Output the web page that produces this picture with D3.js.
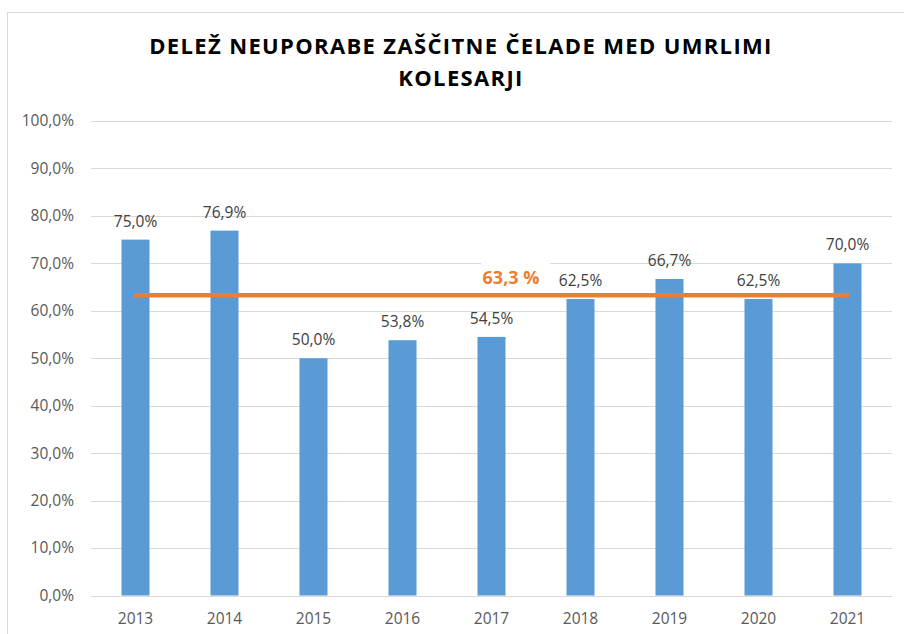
<!DOCTYPE html>
<html>
<head>
<meta charset="utf-8">
<script src="https://cdn.jsdelivr.net/npm/d3@7"></script>
<style>
  body { margin: 0; background: #fff; }
  text { font-family: "Open Sans", "Liberation Sans", sans-serif; }
</style>
</head>
<body>
<svg id="chart"></svg>
<script>
// data
const years = ["2013", "2014", "2015", "2016", "2017", "2018", "2019", "2020", "2021"];
const shares = [75.0, 76.9, 50.0, 53.8, 54.5, 62.5, 66.7, 62.5, 70.0];
const average = 63.3;
const yTicks = [0, 10, 20, 30, 40, 50, 60, 70, 80, 90, 100];
const titleLines = ["DELEŽ NEUPORABE ZAŠČITNE ČELADE MED UMRLIMI", "KOLESARJI"];

const width = 904, height = 634;
const margin = { top: 121, right: 12, bottom: 38.5, left: 91 };

const svg = d3.select("#chart")
  .attr("width", width)
  .attr("height", height);

// chart frame
svg.append("rect")
  .attr("x", 7.5).attr("y", 12.5)
  .attr("width", width).attr("height", height)
  .attr("fill", "#fff")
  .attr("stroke", "#D9D9D9");

// title
svg.append("g").selectAll("text")
  .data(titleLines)
  .join("text")
  .attr("x", 461)
  .attr("y", (d, i) => 53.5 + i * 32.5)
  .attr("text-anchor", "middle")
  .style("font-size", "22px")
  .style("font-weight", "700")
  .style("letter-spacing", "1.35px")
  .attr("fill", "#000")
  .text(d => d);

const x = d3.scaleBand()
  .domain(years)
  .range([margin.left, width - margin.right])
  .paddingInner(0.685)
  .paddingOuter(0.3425);

const y = d3.scaleLinear()
  .domain([0, 100])
  .range([height - margin.bottom, margin.top]);

const pct = d => d3.format(".1f")(d).replace(".", ",") + "%";

// gridlines
svg.append("g").selectAll("line")
  .data(yTicks)
  .join("line")
  .attr("x1", margin.left)
  .attr("x2", width - margin.right)
  .attr("y1", d => Math.round(y(d)) + 0.5)
  .attr("y2", d => Math.round(y(d)) + 0.5)
  .attr("stroke", "#D9D9D9")
  .attr("stroke-width", 1);

// y labels
svg.append("g").selectAll("text")
  .data(yTicks)
  .join("text")
  .attr("x", 74)
  .attr("y", d => y(d))
  .attr("dy", "0.35em")
  .attr("text-anchor", "end")
  .style("font-size", "15.5px")
  .attr("fill", "#595959")
  .text(pct);

// bars
svg.append("g").selectAll("rect")
  .data(shares)
  .join("rect")
  .attr("x", (d, i) => x(years[i]))
  .attr("width", x.bandwidth())
  .attr("y", d => y(d))
  .attr("height", d => y(0) - y(d))
  .attr("fill", "#5B9BD5");

// value labels
svg.append("g").selectAll("text")
  .data(shares)
  .join("text")
  .attr("x", (d, i) => x(years[i]) + x.bandwidth() / 2)
  .attr("y", d => y(d) - 13)
  .attr("text-anchor", "middle")
  .style("font-size", "15.5px")
  .attr("fill", "#404040")
  .text(pct);

// x labels
svg.append("g").selectAll("text")
  .data(years)
  .join("text")
  .attr("x", d => x(d) + x.bandwidth() / 2)
  .attr("y", 624)
  .attr("text-anchor", "middle")
  .style("font-size", "15.5px")
  .attr("fill", "#595959")
  .text(d => d);

// average line
const line = d3.line()
  .x(d => x(d) + x.bandwidth() / 2)
  .y(() => y(average));

svg.append("path")
  .datum(years)
  .attr("d", line)
  .attr("fill", "none")
  .attr("stroke", "#ED7D31")
  .attr("stroke-width", 4.5)
  .attr("stroke-linecap", "square");

// average label with white box
svg.append("rect")
  .attr("x", 481).attr("y", 263)
  .attr("width", 69).attr("height", 27)
  .attr("fill", "#fff");

svg.append("text")
  .attr("x", 511)
  .attr("y", 284)
  .attr("text-anchor", "middle")
  .style("font-size", "18px")
  .style("font-weight", "700")
  .attr("fill", "#ED7D31")
  .text(d3.format(".1f")(average).replace(".", ",") + " %");
</script>
</body>
</html>
